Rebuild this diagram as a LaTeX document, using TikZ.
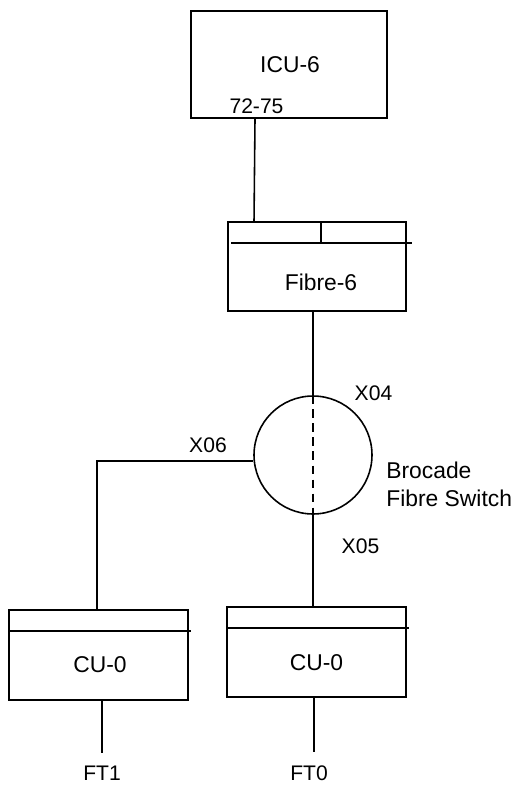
\documentclass[tikz,border=0pt]{standalone}
\usepackage{fontspec}
\setmainfont{Liberation Sans}
\usetikzlibrary{positioning}
\tikzset{
unit/.style={
draw,
rectangle,
line width=0.9pt,
inner sep=0pt
},
hub/.style={
draw,
circle,
line width=0.9pt,
inner sep=0pt,
minimum size=2.36cm
},
title/.style={
font=\fontsize{13}{16}\selectfont,
inner sep=0pt
},
port/.style={
font=\fontsize{12}{14}\selectfont,
inner sep=0pt
},
wire/.style={
line width=0.9pt
}
}

\begin{document}
\begin{tikzpicture}[x=0.02cm,y=-0.02cm]
\useasboundingbox (0,0) rectangle (521,785);

\node[unit,minimum width=3.92cm,minimum height=2.14cm](icu) at (289,64.5){};
\node[title](icutxt) at (290,65){ICU-6};
\node[port](icuport) at (256.5,106.5){72-75};

\node[unit,minimum width=3.56cm,minimum height=1.78cm](fibre) at (317,266.5){};
\node[title](fibretxt) at (321,282){Fibre-6};
\draw[wire] ([xshift=0.08cm,yshift=-0.44cm]fibre.north west)
-- ([xshift=0.1cm,yshift=-0.44cm]fibre.north east);
\draw[wire] ([xshift=0.08cm]fibre.north) -- ([xshift=0.08cm,yshift=-0.44cm]fibre.north);

\node[hub](sw) at (313,455){};
\node[title,align=left,anchor=west](swtxt) at (386,484){Brocade\\Fibre Switch};
\node[port](x04) at (373.5,393){X04};
\node[port](x06) at (208,445){X06};
\node[port](x05) at (360.5,546){X05};

\node[unit,minimum width=3.58cm,minimum height=1.8cm](cu1) at (98.5,655){};
\node[title](cu1txt) at (100,665){CU-0};
\draw[wire] ([yshift=-0.44cm]cu1.north west)
-- ([xshift=0.04cm,yshift=-0.44cm]cu1.north east);

\node[unit,minimum width=3.58cm,minimum height=1.8cm](cu0) at (316.5,652){};
\node[title](cu0txt) at (316.5,663){CU-0};
\draw[wire] ([yshift=-0.44cm]cu0.north west)
-- ([xshift=0.04cm,yshift=-0.44cm]cu0.north east);

\node[port](ft1) at (102,773){FT1};
\node[port](ft0) at (309,773){FT0};

\coordinate (bend) at (97,461);
\coordinate (ft1end) at (102,753);
\coordinate (ft0end) at (314,752);

% connections
\draw[wire] ([xshift=-0.68cm]icu.south) -- ([xshift=-1.26cm]fibre.north);
\draw[wire] (fibre.south -| sw.north) -- (sw.north);
\draw[wire,dashed,dash pattern=on 5pt off 3pt] (sw.north) -- (sw.south);
\draw[wire] (sw.south) -- (sw.south |- cu0.north);
\draw[wire] (sw.west |- bend) -- (bend) -- (bend |- cu1.north);
\draw[wire] (cu1.south -| ft1end) -- (ft1end);
\draw[wire] (cu0.south -| ft0end) -- (ft0end);

\end{tikzpicture}
\end{document}
